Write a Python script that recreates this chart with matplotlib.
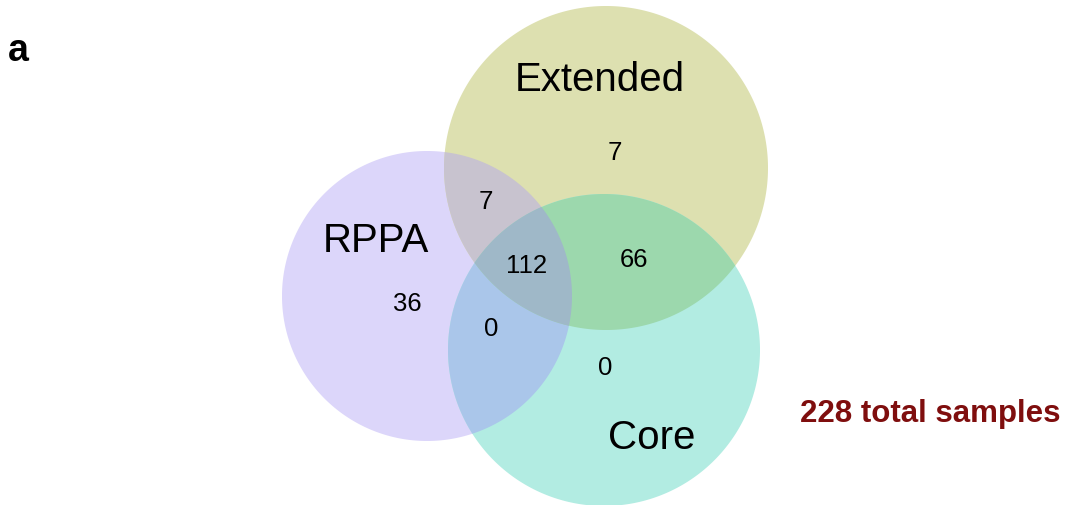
import matplotlib
matplotlib.use("Agg")
import matplotlib.pyplot as plt
from matplotlib.patches import Polygon
import numpy as np

# Data: sets and region counts
set_names = ["RPPA", "Extended", "Core"]
region_keys = ["100", "010", "001", "110", "101", "011", "111"]  # membership in RPPA, Extended, Core
region_counts = [36, 7, 0, 7, 0, 66, 112]
total_samples = sum(region_counts)

# Layout (pixel coordinates, y down)
centers = [(427, 297), (606, 169), (604, 351)]
radii = [145, 162, 156]
name_pos = [(376, 241), (600, 80), (652, 438)]
count_pos = {"100": (407, 304), "010": (615, 153), "001": (605, 368),
             "110": (486, 202), "101": (491, 329), "011": (634, 260),
             "111": (527, 266)}
region_colors = {"100": "#dcd6fa", "010": "#dde0b0", "001": "#b2ece2",
                 "110": "#c8c3cf", "101": "#aac6ea", "011": "#9cd8ad",
                 "111": "#9fb8c8"}

plt.rcParams['font.family'] = ['Liberation Sans', 'DejaVu Sans']


def circle_poly(c, r, n=720):
    t = np.linspace(0, 2 * np.pi, n, endpoint=False)
    return np.column_stack([c[0] + r * np.cos(t), c[1] + r * np.sin(t)])


def clip(subject, c, r):
    # Sutherland-Hodgman clipping of a polygon by a circle (as convex polygon)
    clipper = circle_poly(c, r)
    out = list(subject)
    for i in range(len(clipper)):
        a = clipper[i]
        b = clipper[(i + 1) % len(clipper)]
        inp = out
        out = []
        if not inp:
            break

        def inside(p):
            return (b[0] - a[0]) * (p[1] - a[1]) - (b[1] - a[1]) * (p[0] - a[0]) >= 0

        def inter(p, q):
            d1 = np.array(q) - np.array(p)
            d2 = b - a
            den = d1[0] * d2[1] - d1[1] * d2[0]
            tt = ((a[0] - p[0]) * d2[1] - (a[1] - p[1]) * d2[0]) / den
            return np.array(p) + tt * d1

        prev = inp[-1]
        for cur in inp:
            if inside(cur):
                if not inside(prev):
                    out.append(inter(prev, cur))
                out.append(cur)
            elif inside(prev):
                out.append(inter(prev, cur))
            prev = cur
    return np.array(out)


fig = plt.figure(figsize=(10.69, 5.06), dpi=100)
ax = fig.add_axes([0, 0, 1, 1])
ax.set_xlim(0, 1069)
ax.set_ylim(506, 0)
ax.set_aspect('equal')
ax.axis('off')

# single circles
for i, key in enumerate(["100", "010", "001"]):
    ax.add_patch(Polygon(circle_poly(centers[i], radii[i]), closed=True,
                         facecolor=region_colors[key], edgecolor='none', zorder=1))

# pairwise overlaps
for key, (i, j) in {"110": (0, 1), "101": (0, 2), "011": (1, 2)}.items():
    poly = clip(circle_poly(centers[i], radii[i]), centers[j], radii[j])
    ax.add_patch(Polygon(poly, closed=True, facecolor=region_colors[key],
                         edgecolor='none', zorder=2))

# triple overlap
poly = clip(clip(circle_poly(centers[0], radii[0]), centers[1], radii[1]), centers[2], radii[2])
ax.add_patch(Polygon(poly, closed=True, facecolor=region_colors["111"],
                     edgecolor='none', zorder=3))

for name, (x, y) in zip(set_names, name_pos):
    ax.text(x, y, name, fontsize=29, ha='center', va='center', zorder=5)

for key, n in zip(region_keys, region_counts):
    x, y = count_pos[key]
    ax.text(x, y, str(n), fontsize=18.5, ha='center', va='center', zorder=5)

ax.text(930, 414, f"{total_samples} total samples", fontsize=22.5, fontweight='bold',
        color='#7f0e0e', ha='center', va='center')
ax.text(18, 51, "a", fontsize=27, fontweight='bold', ha='center', va='center')

fig.savefig("out.png", dpi=100)
